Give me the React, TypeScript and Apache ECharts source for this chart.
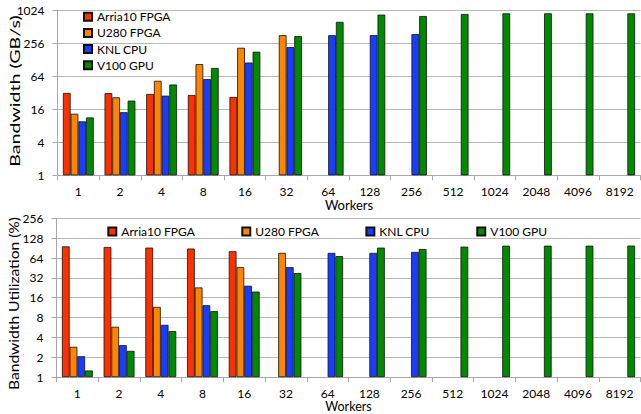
import React, { useEffect, useRef } from "react";
import * as echarts from "echarts";

const categories = ["1", "2", "4", "8", "16", "32", "64", "128", "256", "512", "1024", "2048", "4096", "8192"];
const seriesNames = ["Arria10 FPGA", "U280 FPGA", "KNL CPU", "V100 GPU"];
const colors = ["#FF3000", "#FF8400", "#1A3CFF", "#008A00"];

// Bandwidth (GB/s)
const arria10BW = [31.6, 31.4, 30.3, 29, 26.7, null, null, null, null, null, null, null, null, null];
const u280BW = [13.2, 26.3, 52.6, 106, 210, 356, null, null, null, null, null, null, null, null];
const knlBW = [9.6, 14.1, 28.2, 56.4, 113, 216, 356, 356, 372, null, null, null, null, null];
const v100BW = [11.3, 22.9, 45, 90, 178, 342, 621, 843, 796, 866, 890, 890, 890, 890];

// Bandwidth Utilization (%)
const arria10Util = [96, 94, 92, 89, 81, null, null, null, null, null, null, null, null, null];
const u280Util = [2.88, 5.8, 11.6, 22.9, 46.4, 76.5, null, null, null, null, null, null, null, null];
const knlUtil = [2.07, 3.05, 6.2, 12.3, 24.3, 46.4, 76.5, 76.5, 79, null, null, null, null, null];
const v100Util = [1.26, 2.5, 5.0, 10, 19.8, 37.8, 68.3, 92, 87.6, 95, 98.4, 98.4, 98.4, 98.8];

const FONT = "Lato";

export default function App() {
  const ref = useRef<HTMLDivElement>(null);
  useEffect(() => {
    if (!ref.current) return;
    const chart = echarts.init(ref.current, undefined, { renderer: "svg" });
    const topData = [arria10BW, u280BW, knlBW, v100BW];
    const botData = [arria10Util, u280Util, knlUtil, v100Util];
    const axisLine = { show: true, lineStyle: { color: "#a8a8a8", width: 1 } };
    const splitLine = { show: true, lineStyle: { color: "#b8b8b8", width: 1.2 } };
    const labelStyle = { color: "#000", fontFamily: FONT, fontSize: 12 };
    const mkX = (gridIndex: number, gap: number, nameSize: number) => ({
      type: "category",
      gridIndex,
      data: categories,
      boundaryGap: true,
      axisLine,
      axisTick: { show: true, length: 5, lineStyle: { color: "#a8a8a8" } },
      axisLabel: { ...labelStyle, margin: 10 },
      name: "Workers",
      nameLocation: "middle",
      nameGap: gap,
      nameTextStyle: { color: "#000", fontFamily: FONT, fontSize: nameSize },
      splitLine: { show: false },
    });
    const mkY = (gridIndex: number, max: number, interval: number) => ({
      type: "log",
      logBase: 2,
      gridIndex,
      min: 1,
      max,
      interval,
      axisLine,
      axisTick: { show: true, length: 5, lineStyle: { color: "#a8a8a8" } },
      axisLabel: { ...labelStyle, margin: 13, formatter: (v: number) => String(Math.round(v)) },
      splitLine,
    });
    const series: any[] = [];
    seriesNames.forEach((name, i) => {
      series.push({
        type: "bar",
        name,
        xAxisIndex: 0,
        yAxisIndex: 0,
        data: topData[i].map((v) => (v == null ? "-" : v)),
        itemStyle: { color: colors[i], borderColor: "#111", borderWidth: 0.8 },
        barGap: "0%",
        barCategoryGap: "26%",
      });
    });
    seriesNames.forEach((name, i) => {
      series.push({
        type: "bar",
        name,
        xAxisIndex: 1,
        yAxisIndex: 1,
        data: botData[i].map((v) => (v == null ? "-" : v)),
        itemStyle: { color: colors[i], borderColor: "#111", borderWidth: 0.8 },
        barGap: "0%",
        barCategoryGap: "26%",
      });
    });
    const legendText = { color: "#000", fontFamily: FONT, fontSize: 12, lineHeight: 12 };
    chart.setOption({
      animation: false,
      backgroundColor: "#fff",
      grid: [
        { left: 57.5, right: 0.5, top: 10, height: 165.3, containLabel: false },
        { left: 56.5, right: 0.5, top: 218.3, height: 162.4, containLabel: false },
      ],
      xAxis: [mkX(0, 23, 13), mkX(1, 22.5, 12.5)],
      yAxis: [mkY(0, 1024, 2), mkY(1, 256, 1)],
      legend: [
        {
          data: seriesNames,
          orient: "vertical",
          left: 83,
          top: 10.7,
          padding: 0,
          itemGap: 4.2,
          itemWidth: 8,
          itemHeight: 8,
          icon: "rect",
          textStyle: legendText,
        },
        {
          data: seriesNames,
          orient: "horizontal",
          left: 107.3,
          top: 225.5,
          padding: 0,
          itemGap: 46.5,
          itemWidth: 8,
          itemHeight: 8,
          icon: "rect",
          textStyle: legendText,
        },
      ],
      graphic: [
        {
          type: "text",
          x: 15,
          y: 91,
          rotation: Math.PI / 2,
          scaleX: 1.4,
          style: { text: "Bandwidth (GB/s)", fontSize: 14, fontFamily: FONT, fill: "#000", align: "center", verticalAlign: "middle" },
        },
        {
          type: "text",
          x: 14.5,
          y: 303.5,
          rotation: Math.PI / 2,
          scaleX: 1.2,
          style: { text: "Bandwidth Utilization (%)", fontSize: 13, fontFamily: FONT, fill: "#000", align: "center", verticalAlign: "middle" },
        },
      ],
      series,
    });
    return () => chart.dispose();
  }, []);
  return <div ref={ref} style={{ position: "fixed", left: 0, top: 0, width: 641, height: 414 }} />;
}
